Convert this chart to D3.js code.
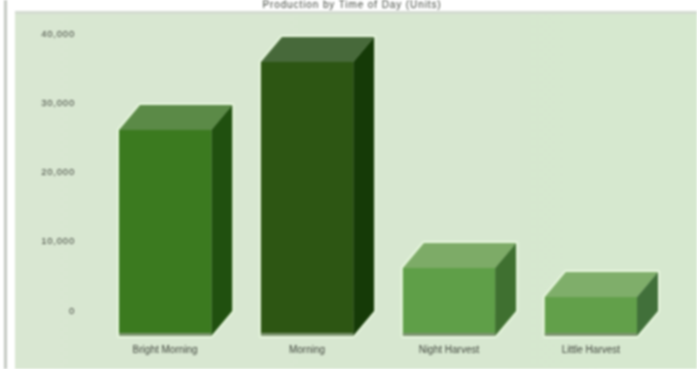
<!DOCTYPE html>
<html>
<head>
<meta charset="utf-8">
<script src="https://cdn.jsdelivr.net/npm/d3@7"></script>
<style>
html,body{margin:0;padding:0;background:#fff;overflow:hidden}
svg{display:block;filter:blur(1.2px)}
text{font-family:"Liberation Sans",Arial,sans-serif;fill:#3d433a}
</style>
</head>
<body>
<svg id="c" width="697" height="369"></svg>
<script>
const categories = ["Bright Morning", "Morning", "Night Harvest", "Little Harvest"];
const values = [29750, 39570, 9820, 5630];
const tickValues = [0, 10000, 20000, 30000, 40000];
const chartTitle = "Production by Time of Day (Units)";
const frontColors = ["#3b7a1f", "#2d5613", "#5f9f48", "#62a04a"];
const topColors = ["#5b8a47", "#47693a", "#7dab67", "#7fae6a"];
const sideColors = ["#20500f", "#153a07", "#3f7030", "#41703a"];

const svg = d3.select("#c");
const depthX = 21, depthY = 25;
const x = d3.scaleBand().domain(categories).range([119, 637]).paddingInner(0.35).paddingOuter(0);
const y = d3.scaleLinear().domain([0, 40000]).range([336, 59]);

const defs = svg.append("defs");
const grad = defs.append("linearGradient").attr("id", "panel").attr("x1", 0).attr("x2", 1).attr("y1", 0).attr("y2", 0);
grad.append("stop").attr("offset", 0).attr("stop-color", "#d9e7d2");
grad.append("stop").attr("offset", 1).attr("stop-color", "#d6e8cf");

svg.append("rect").attr("x", 4).attr("y", 0).attr("width", 3).attr("height", 369).attr("fill", "#c4c9c2");
svg.append("rect").attr("x", 15).attr("y", 11).attr("width", 682).attr("height", 358).attr("fill", "url(#panel)");
svg.append("rect").attr("x", 15).attr("y", 11).attr("width", 682).attr("height", 3).attr("fill", "#d3dbd0");

svg.append("text").attr("x", 352).attr("y", 8).attr("text-anchor", "middle")
  .attr("font-size", 10).attr("letter-spacing", 0.9).text(chartTitle);

const axis = d3.axisLeft(y).tickValues(tickValues).tickSize(0).tickFormat(d3.format(","));
const ax = svg.append("g").attr("transform", `translate(85,${-depthY - 1})`).call(axis);
ax.select(".domain").remove();
ax.selectAll("text").attr("font-size", 9.5).attr("letter-spacing", 0.8).attr("x", -10);

const xAxis = d3.axisBottom(x).tickSize(0);
const bx = svg.append("g").attr("transform", "translate(0,344)").call(xAxis);
bx.select(".domain").remove();
bx.selectAll("text").attr("font-size", 10).attr("dy", "0.55em");

const bars = svg.selectAll(".bar").data(categories.map((c, i) => ({c, i, v: values[i]})))
  .enter().append("g").attr("class", "bar");

function outline(d) {
  const l = x(d.c), r = l + x.bandwidth(), t = y(d.v), b = y(0);
  return `M${l},${b}L${l},${t}L${l + depthX},${t - depthY}L${r + depthX},${t - depthY}L${r + depthX},${b - depthY}L${r},${b}Z`;
}
bars.append("path").attr("d", outline).attr("fill", "#e9f8df").attr("stroke", "#e9f8df").attr("stroke-width", 4).attr("stroke-linejoin", "round");
bars.append("path").attr("d", d => {
  const l = x(d.c), r = l + x.bandwidth(), t = y(d.v);
  return `M${l},${t}L${l + depthX},${t - depthY}L${r + depthX},${t - depthY}L${r},${t}Z`;
}).attr("fill", d => topColors[d.i]);
bars.append("path").attr("d", d => {
  const r = x(d.c) + x.bandwidth(), t = y(d.v), b = y(0);
  return `M${r},${t}L${r + depthX},${t - depthY}L${r + depthX},${b - depthY}L${r},${b}Z`;
}).attr("fill", d => sideColors[d.i]);
bars.append("rect").attr("x", d => x(d.c)).attr("y", d => y(d.v))
  .attr("width", x.bandwidth()).attr("height", d => y(0) - y(d.v))
  .attr("fill", d => frontColors[d.i]);
bars.append("rect").attr("x", d => x(d.c)).attr("y", y(0) - 3)
  .attr("width", x.bandwidth()).attr("height", 3)
  .attr("fill", "#7d9470");
</script>
</body>
</html>
